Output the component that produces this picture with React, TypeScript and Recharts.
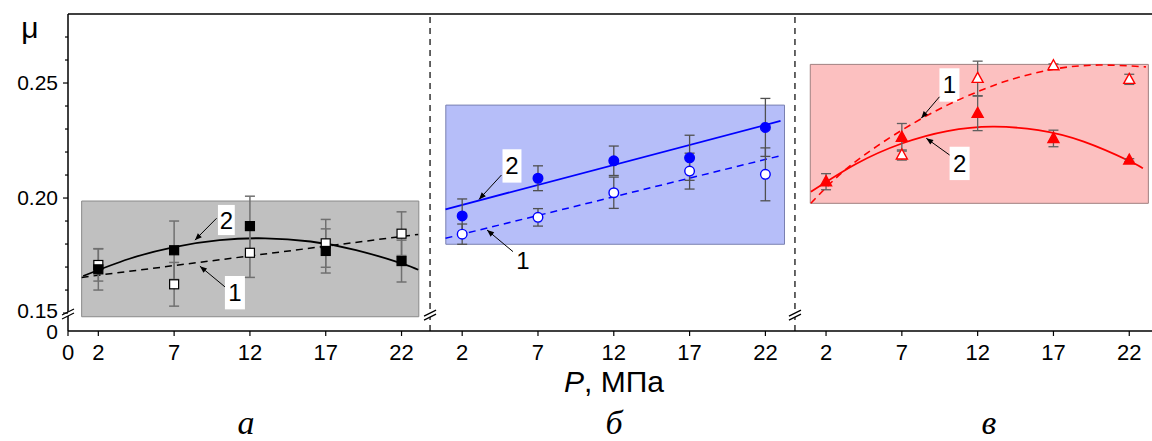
import React from "react";
import {
  ComposedChart,
  Line,
  Scatter,
  ErrorBar,
  XAxis,
  YAxis,
  ReferenceArea,
  ReferenceLine,
  ReferenceDot,
} from "recharts";

const pressures = [2, 7, 12, 17, 22];
const panelOffsets = [0, 24, 48];

// panel а — grey
const aOpen = [0.1709, 0.1625, 0.1762, 0.1803, 0.1845];
const aOpenErr = [0.007, 0.0095, 0.0107, 0.0104, 0.0095];
const aFilled = [0.169, 0.1773, 0.1878, 0.177, 0.1726];
const aFilledErr = [0.009, 0.0127, 0.013, 0.0096, 0.0091];
const aFit1P = [0.9, 23.1];
const aFit1 = [0.1655, 0.1842];
const aFit2P = [1, 4, 7, 10, 13, 16, 19, 22, 23.1];
const aFit2 = [0.1661, 0.1735, 0.1787, 0.1817, 0.1825, 0.1811, 0.1774, 0.1716, 0.1688];

// panel б — blue
const bOpen = [0.1843, 0.1916, 0.2023, 0.2117, 0.2103];
const bOpenErr = [0.0044, 0.0038, 0.0068, 0.0078, 0.0115];
const bFilled = [0.1922, 0.2086, 0.2162, 0.2175, 0.2307];
const bFilledErr = [0.0074, 0.0054, 0.0064, 0.0098, 0.0126];
const bFit1P = [0.9, 23.0];
const bFit1 = [0.1825, 0.2184];
const bFit2P = [0.9, 23.0];
const bFit2 = [0.1951, 0.2335];

// panel в — red
const cOpen = [null, 0.2187, 0.252, 0.2575, 0.2516];
const cOpenErr = [0, 0.0022, 0.0075, 0.0008, 0.0022];
const cFilled = [0.2071, 0.2264, 0.2368, 0.2259, 0.2165];
const cFilledErr = [0.0035, 0.006, 0.0075, 0.0036, 0.0006];
const cFit1P = [1, 3.5, 7, 10, 12, 14, 17, 20, 23.1];
const cFit1 = [0.1977, 0.2135, 0.2295, 0.2404, 0.2462, 0.2511, 0.256, 0.2578, 0.257];
const cFit2P = [1, 4, 7, 10, 13, 16, 19, 22, 22.9];
const cFit2 = [0.2027, 0.2149, 0.2237, 0.2291, 0.231, 0.2295, 0.2245, 0.2161, 0.2129];

const xTicks = [0, 2, 7, 12, 17, 22, 26, 31, 36, 41, 46, 50, 55, 60, 65, 70];
const yZero = 0.1422; // where "0" sits below the axis break
const yTicks = [yZero, 0.15, 0.16, 0.17, 0.18, 0.19, 0.2, 0.21, 0.22, 0.23, 0.24, 0.25, 0.26, 0.27];
const yLabels: Record<string, string> = { "0.142": "0", "0.150": "0.15", "0.200": "0.20", "0.250": "0.25" };

const FONT = "'Liberation Sans', Arial, sans-serif";
const SERIF = "'Liberation Serif', 'Times New Roman', serif";

const points = (vals: (number | null)[], errs: number[], panel: number) =>
  pressures
    .map((p, i) => ({ x: p + panelOffsets[panel], y: vals[i], err: errs[i] }))
    .filter((d) => d.y != null);

const curve = (ps: number[], vals: number[], panel: number) =>
  ps.map((p, i) => ({ x: p + panelOffsets[panel], y: vals[i] }));

const square = (fill: string) => (props: any) => (
  <rect x={props.cx - 4.5} y={props.cy - 4.5} width={9} height={9} fill={fill} stroke="#000" strokeWidth={1.2} />
);
const circle = (fill: string) => (props: any) => (
  <circle cx={props.cx} cy={props.cy} r={4.8} fill={fill} stroke="#0000ff" strokeWidth={1.4} />
);
const triangle = (fill: string) => (props: any) => (
  <polygon
    points={`${props.cx},${props.cy - 6} ${props.cx + 5.5},${props.cy + 4} ${props.cx - 5.5},${props.cy + 4}`}
    fill={fill}
    stroke="#ff0000"
    strokeWidth={1.4}
  />
);

const BreakMark = (props: any) => {
  const { cx, cy } = props;
  return (
    <g>
      <polygon points={`${cx - 6},${cy + 1} ${cx + 6},${cy - 5} ${cx + 6},${cy - 1} ${cx - 6},${cy + 5}`} fill="#fff" />
      <line x1={cx - 6} y1={cy + 1} x2={cx + 6} y2={cy - 5} stroke="#000" strokeWidth={1.2} />
      <line x1={cx - 6} y1={cy + 5} x2={cx + 6} y2={cy - 1} stroke="#000" strokeWidth={1.2} />
    </g>
  );
};

const XTick = (props: any) => {
  const { x, y, payload } = props;
  const v = payload.value;
  const label = v < 24 ? v : v < 48 ? v - 24 : v - 48;
  return (
    <g>
      <line x1={x} y1={y} x2={x} y2={y + 5} stroke="#000" strokeWidth={1.2} />
      <text x={x} y={y + 29} textAnchor="middle" fontSize={22} fontFamily={FONT} fill="#000">
        {label}
      </text>
    </g>
  );
};

const YTick = (props: any) => {
  const { x, y, payload } = props;
  const label = yLabels[Number(payload.value).toFixed(3)];
  const major = label !== undefined;
  if (label === "0") {
    return (
      <text x={x - 10} y={y + 1} dy="0.35em" textAnchor="end" fontSize={21} fontFamily={FONT} fill="#000">
        0
      </text>
    );
  }
  return (
    <g>
      <line x1={x - (major ? 5 : 3)} y1={y} x2={x} y2={y} stroke="#000" strokeWidth={1.2} />
      {major && (
        <text x={x - 10} y={label === "0.15" ? y - 2 : y} dy="0.35em" textAnchor="end" fontSize={21} fontFamily={FONT} fill="#000">
          {label}
        </text>
      )}
    </g>
  );
};

const labelBox = (x1: number, x2: number, y1: number, y2: number, text: string) => (
  <ReferenceArea
    x1={x1}
    x2={x2}
    y1={y1}
    y2={y2}
    fill="#fff"
    fillOpacity={1}
    stroke="none"
    label={{ value: text, position: "center", fontSize: 24, fill: "#000", fontFamily: FONT }}
  />
);

const arrow = (x1: number, y1: number, x2: number, y2: number) => (
  <ReferenceLine
    segment={[
      { x: x1, y: y1 },
      { x: x2, y: y2 },
    ]}
    stroke="#000"
    strokeWidth={1}
    markerEnd="url(#arrowHead)"
  />
);

export default function App() {
  return (
    <div style={{ position: "absolute", left: 0, top: 0 }}>
      <ComposedChart width={1152} height={441} margin={{ top: 14, right: 0, bottom: 80, left: 8 }}>
        <defs>
          <marker
            id="arrowHead"
            viewBox="0 0 10 10"
            refX="10"
            refY="5"
            markerWidth="8"
            markerHeight="7"
            orient="auto"
            markerUnits="userSpaceOnUse"
          >
            <path d="M0,1 L10,5 L0,9 z" fill="#000" />
          </marker>
        </defs>
        <XAxis
          type="number"
          dataKey="x"
          domain={[0, 71.5]}
          allowDataOverflow
          ticks={xTicks}
          interval={0}
          tickSize={0}
          tickMargin={0}
          tickLine={false}
          tick={<XTick />}
          height={30}
          axisLine={{ stroke: "#000", strokeWidth: 1.5 }}
        />
        <YAxis
          type="number"
          dataKey="y"
          domain={[yZero, 0.28]}
          allowDataOverflow
          ticks={yTicks}
          interval={0}
          tickSize={0}
          tickMargin={0}
          tickLine={false}
          tick={<YTick />}
          width={60}
          axisLine={{ stroke: "#000", strokeWidth: 1.5 }}
        />

        <ReferenceArea x1={0.9} x2={23.14} y1={0.1484} y2={0.1987} fill="#c0c0c0" fillOpacity={1} stroke="#8a8a8a" />
        <ReferenceArea x1={24.92} x2={47.26} y1={0.1799} y2={0.2404} fill="#b6bef9" fillOpacity={1} stroke="#7a80b0" />
        <ReferenceArea x1={48.96} x2={71.26} y1={0.1977} y2={0.2581} fill="#fcc0c0" fillOpacity={1} stroke="#a08080" />

        <ReferenceLine y={0.28} stroke="#000" strokeWidth={1.5} />
        <ReferenceLine x={23.88} stroke="#000" strokeWidth={1.2} strokeDasharray="6 5" />
        <ReferenceLine x={47.95} stroke="#000" strokeWidth={1.2} strokeDasharray="6 5" />

        <Line data={curve(aFit1P, aFit1, 0)} dataKey="y" type="linear" stroke="#000" strokeWidth={1.5} strokeDasharray="7 5" dot={false} isAnimationActive={false} />
        <Line data={curve(aFit2P, aFit2, 0)} dataKey="y" type="natural" stroke="#000" strokeWidth={1.8} dot={false} isAnimationActive={false} />
        <Line data={curve(bFit1P, bFit1, 1)} dataKey="y" type="linear" stroke="#0000ff" strokeWidth={1.5} strokeDasharray="7 5" dot={false} isAnimationActive={false} />
        <Line data={curve(bFit2P, bFit2, 1)} dataKey="y" type="linear" stroke="#0000ff" strokeWidth={1.8} dot={false} isAnimationActive={false} />
        <Line data={curve(cFit1P, cFit1, 2)} dataKey="y" type="natural" stroke="#ff0000" strokeWidth={1.6} strokeDasharray="7 5" dot={false} isAnimationActive={false} />
        <Line data={curve(cFit2P, cFit2, 2)} dataKey="y" type="natural" stroke="#ff0000" strokeWidth={1.8} dot={false} isAnimationActive={false} />

        <Scatter data={points(aOpen, aOpenErr, 0)} shape={square("#fff")} isAnimationActive={false}>
          <ErrorBar dataKey="err" direction="y" width={5} stroke="#707070" strokeWidth={1.5} />
        </Scatter>
        <Scatter data={points(aFilled, aFilledErr, 0)} shape={square("#000")} isAnimationActive={false}>
          <ErrorBar dataKey="err" direction="y" width={5} stroke="#707070" strokeWidth={1.5} />
        </Scatter>
        <Scatter data={points(bOpen, bOpenErr, 1)} shape={circle("#fff")} isAnimationActive={false}>
          <ErrorBar dataKey="err" direction="y" width={5} stroke="#505050" strokeWidth={1.3} />
        </Scatter>
        <Scatter data={points(bFilled, bFilledErr, 1)} shape={circle("#0000ff")} isAnimationActive={false}>
          <ErrorBar dataKey="err" direction="y" width={5} stroke="#505050" strokeWidth={1.3} />
        </Scatter>
        <Scatter data={points(cOpen, cOpenErr, 2)} shape={triangle("#fff")} isAnimationActive={false}>
          <ErrorBar dataKey="err" direction="y" width={5} stroke="#606060" strokeWidth={1.3} />
        </Scatter>
        <Scatter data={points(cFilled, cFilledErr, 2)} shape={triangle("#ff0000")} isAnimationActive={false}>
          <ErrorBar dataKey="err" direction="y" width={5} stroke="#606060" strokeWidth={1.3} />
        </Scatter>

        {labelBox(9.89, 11.0, 0.1839, 0.197, "2")}
        {labelBox(10.35, 11.67, 0.1516, 0.1661, "1")}
        {labelBox(28.66, 29.91, 0.2067, 0.2212, "2")}
        {labelBox(29.4, 30.6, 0.1665, 0.1795, "1")}
        {labelBox(57.48, 58.8, 0.2419, 0.2564, "1")}
        {labelBox(58.15, 59.47, 0.2078, 0.2223, "2")}

        {arrow(9.8, 0.1912, 8.37, 0.1817)}
        {arrow(10.35, 0.1614, 8.7, 0.1704)}
        {arrow(28.59, 0.21, 27.11, 0.1994)}
        {arrow(29.35, 0.1767, 27.64, 0.1861)}
        {arrow(57.48, 0.244, 56.28, 0.2347)}
        {arrow(58.15, 0.2187, 56.61, 0.226)}

        <ReferenceDot x={0} y={0.1496} r={0} shape={BreakMark} ifOverflow="visible" />
        <ReferenceDot x={23.88} y={0.1491} r={0} shape={BreakMark} ifOverflow="visible" />
        <ReferenceDot x={47.95} y={0.1491} r={0} shape={BreakMark} ifOverflow="visible" />

        <text x={30} y={38} textAnchor="middle" fontSize={30} fontFamily={FONT} fill="#000">
          μ
        </text>
        <text x={614} y={392} textAnchor="middle" fontSize={30} fontFamily={FONT} fill="#000">
          <tspan fontStyle="italic">P</tspan>, МПа
        </text>
        <text x={246} y={434} textAnchor="middle" fontSize={34} fontStyle="italic" fontFamily={SERIF} fill="#000">
          а
        </text>
        <text x={614} y={434} textAnchor="middle" fontSize={34} fontStyle="italic" fontFamily={SERIF} fill="#000">
          б
        </text>
        <text x={989} y={434} textAnchor="middle" fontSize={34} fontStyle="italic" fontFamily={SERIF} fill="#000">
          в
        </text>
      </ComposedChart>
    </div>
  );
}
